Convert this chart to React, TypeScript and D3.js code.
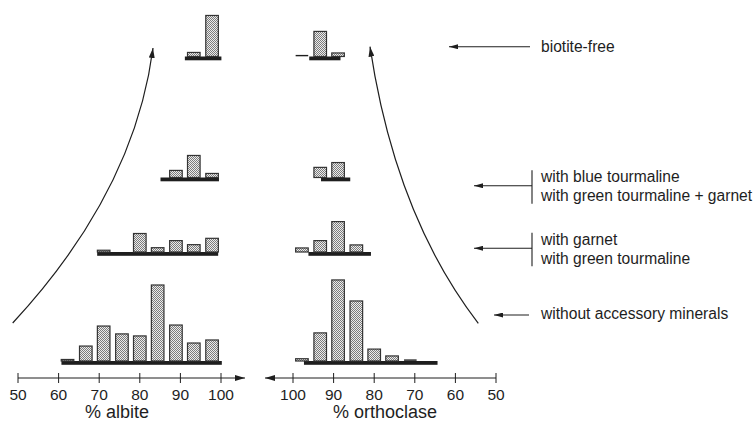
import React from 'react';
import * as d3 from 'd3';

// ---------- data ----------
const albiteTicks = [50, 60, 70, 80, 90, 100];
const orthoclaseTicks = [100, 90, 80, 70, 60, 50];

// histogram bin centres (%)
const albiteBins = [62.2, 66.7, 71.1, 75.6, 80.0, 84.4, 88.9, 93.3, 97.8];
const orthoclaseBins = [97.8, 93.3, 88.9, 84.4, 80.0, 75.6, 71.1, 66.7, 62.2];

// frequencies per group (top -> bottom)
const albiteBiotiteFree = [0, 0, 0, 0, 0, 0, 0, 1.6, 16.2];
const albiteBlueTourm = [0, 0, 0, 0, 0, 0, 2.8, 8.7, 1.6];
const albiteGarnet = [0, 0, 0.7, 0, 7.3, 1.7, 4.5, 2.9, 5.4];
const albiteNoAccessory = [0.6, 5.9, 13.8, 10.7, 9.9, 30.0, 14.2, 7.1, 8.3];

const orthoBiotiteFree = [0.3, 9.9, 1.4, 0, 0, 0, 0, 0, 0];
const orthoBlueTourm = [0, 4.0, 5.9, 0, 0, 0, 0, 0, 0];
const orthoGarnet = [1.6, 4.5, 12.0, 2.8, 0, 0, 0, 0, 0];
const orthoNoAccessory = [0.9, 11.1, 32.0, 23.7, 4.7, 2.0, 0.4, 0, 0];

// compositional range (thick base bars)
const albiteRanges: [number, number][] = [[91.1, 100.1], [85.1, 99.5], [69.5, 99.3], [60.7, 100.2]];
const orthoRanges: [number, number][] = [[96.0, 88.3], [93.1, 85.9], [96.2, 80.8], [97.3, 64.4]];

const groupLabels = [
  ['biotite-free'],
  ['with blue tourmaline', 'with green tourmaline + garnet'],
  ['with garnet', 'with green tourmaline'],
  ['without accessory minerals'],
];

// ---------- layout ----------
const W = 756;
const H = 422;
const groupBaseY = [56.5, 177.5, 252, 361];
const axisY = 378;
const binHalf = 1.55;
const font = "'Liberation Sans', Arial, Helvetica, sans-serif";
const ink = '#1e1e1e';

const labelArrowY = [46.7, 185.7, 248.3, 315];
const labelArrowX0 = [530, 532, 532, 529];
const labelArrowX1 = [449, 474, 474, 494];
const labelTextX = 541;
const labelFirstBaseline = [52, 182, 245.3, 318.8];
const labelLineGap = 18.8;
const bracketX = 532;

export default function App() {
  const xL = d3.scaleLinear().domain([50, 100]).range([18, 221]);
  const xR = d3.scaleLinear().domain([100, 50]).range([293, 496]);
  const h = d3.scaleLinear().domain([0, 30]).range([0, 76]);

  const albiteSeries = [albiteBiotiteFree, albiteBlueTourm, albiteGarnet, albiteNoAccessory];
  const orthoSeries = [orthoBiotiteFree, orthoBlueTourm, orthoGarnet, orthoNoAccessory];

  const bars = (
    series: number[][],
    bins: number[],
    x: d3.ScaleLinear<number, number>,
    key: string
  ) =>
    series.flatMap((vals, gi) =>
      vals.map((v, i) => {
        if (v <= 0) return null;
        const a = x(bins[i] - binHalf);
        const b = x(bins[i] + binHalf);
        const x0 = Math.min(a, b);
        const bw = Math.abs(b - a);
        const bh = h(v);
        if (bh < 1.2) {
          return (
            <rect key={`${key}-${gi}-${i}`} x={x0} y={groupBaseY[gi] - 1.6} width={bw} height={1.4} fill={ink} />
          );
        }
        return (
          <rect
            key={`${key}-${gi}-${i}`}
            x={x0}
            y={groupBaseY[gi] - bh}
            width={bw}
            height={bh}
            fill="url(#stipple)"
            stroke="#333"
            strokeWidth={1.2}
          />
        );
      })
    );

  const ranges = (rs: [number, number][], x: d3.ScaleLinear<number, number>, key: string) =>
    rs.map((r, gi) => {
      const a = x(r[0]);
      const b = x(r[1]);
      return (
        <rect key={`${key}-${gi}`} x={Math.min(a, b)} y={groupBaseY[gi]} width={Math.abs(b - a)} height={3.8} fill={ink} />
      );
    });

  const leftCurve = d3.path();
  leftCurve.moveTo(12.7, 323);
  leftCurve.quadraticCurveTo(134.4, 191.8, 153, 48);
  const rightCurve = d3.path();
  rightCurve.moveTo(478.3, 323.3);
  rightCurve.quadraticCurveTo(395.3, 215.4, 370, 46.7);

  return (
    <svg
      width={W}
      height={H}
      style={{ position: 'absolute', left: 0, top: 0, background: '#fff' }}
      fontFamily={font}
    >
      <defs>
        <pattern id="stipple" width={2} height={2} patternUnits="userSpaceOnUse">
          <rect width={2} height={2} fill="#ececec" />
          <rect x={0} y={0} width={1} height={1} fill="#7c7c7c" />
          <rect x={1} y={1} width={1} height={1} fill="#7c7c7c" />
        </pattern>
        <marker id="arr" viewBox="0 0 10 6" refX={10} refY={3} markerWidth={10} markerHeight={6} markerUnits="userSpaceOnUse" orient="auto">
          <path d="M0,0 L10,3 L0,6 Z" fill={ink} />
        </marker>
        <marker id="arrS" viewBox="0 0 9 5" refX={9} refY={2.5} markerWidth={9} markerHeight={5} markerUnits="userSpaceOnUse" orient="auto">
          <path d="M0,0 L9,2.5 L0,5 Z" fill={ink} />
        </marker>
      </defs>

      {/* curved trend arrows */}
      <path d={leftCurve.toString()} fill="none" stroke={ink} strokeWidth={1.2} markerEnd="url(#arr)" />
      <path d={rightCurve.toString()} fill="none" stroke={ink} strokeWidth={1.2} markerEnd="url(#arr)" />

      {/* histograms */}
      {ranges(albiteRanges, xL, 'ra')}
      {ranges(orthoRanges, xR, 'ro')}
      {bars(albiteSeries, albiteBins, xL, 'ba')}
      {bars(orthoSeries, orthoclaseBins, xR, 'bo')}

      {/* albite axis */}
      <line x1={xL(50)} x2={245} y1={axisY} y2={axisY} stroke={ink} strokeWidth={1} markerEnd="url(#arr)" />
      {albiteTicks.map((t) => (
        <g key={`ta${t}`}>
          <line x1={xL(t)} x2={xL(t)} y1={axisY - 5} y2={axisY + 5} stroke={ink} strokeWidth={1} />
          <text x={xL(t)} y={400} textAnchor="middle" fontSize={15.5} fill={ink}>
            {t}
          </text>
        </g>
      ))}
      <text x={117} y={418} textAnchor="middle" fontSize={18} fill={ink}>
        % albite
      </text>

      {/* orthoclase axis */}
      <line x1={xR(50)} x2={265} y1={axisY} y2={axisY} stroke={ink} strokeWidth={1} markerEnd="url(#arr)" />
      {orthoclaseTicks.map((t) => (
        <g key={`to${t}`}>
          <line x1={xR(t)} x2={xR(t)} y1={axisY - 5} y2={axisY + 5} stroke={ink} strokeWidth={1} />
          <text x={xR(t)} y={400} textAnchor="middle" fontSize={15.5} fill={ink}>
            {t}
          </text>
        </g>
      ))}
      <text x={385} y={418} textAnchor="middle" fontSize={18} fill={ink}>
        % orthoclase
      </text>

      {/* group labels */}
      {groupLabels.map((lines, gi) => (
        <g key={`gl${gi}`}>
          <line
            x1={labelArrowX0[gi]}
            x2={labelArrowX1[gi]}
            y1={labelArrowY[gi]}
            y2={labelArrowY[gi]}
            stroke={ink}
            strokeWidth={1.1}
            markerEnd="url(#arrS)"
          />
          {lines.length > 1 && (
            <line
              x1={bracketX}
              x2={bracketX}
              y1={labelArrowY[gi] - 15.5}
              y2={labelArrowY[gi] + 18}
              stroke={ink}
              strokeWidth={1.1}
            />
          )}
          {lines.map((s, li) => (
            <text key={li} x={labelTextX} y={labelFirstBaseline[gi] + li * labelLineGap} fontSize={15.6} fill={ink}>
              {s}
            </text>
          ))}
        </g>
      ))}
    </svg>
  );
}
